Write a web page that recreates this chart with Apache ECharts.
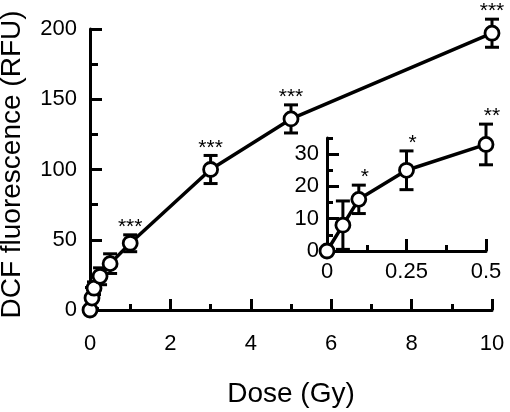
<!DOCTYPE html>
<html>
<head>
<meta charset="utf-8">
<script src="https://cdn.jsdelivr.net/npm/echarts@6/dist/echarts.min.js"></script>
<style>
html,body{margin:0;padding:0;background:#fff;}
#chart{width:510px;height:412px;}
</style>
</head>
<body>
<div id="chart"></div>
<script>
// ---- data ----
const mainDose = [0, 0.05, 0.1, 0.25, 0.5, 1, 3, 5, 10];
const mainDcf  = [0, 8.5, 15.5, 24, 33, 47.5, 100, 136, 197];
const mainErr  = [0, 7.5, 4.5, 6, 7, 6, 10, 10, 10];
const mainSig  = ['', '', '', '', '', '***', '***', '***', '***'];

const insetDose = [0, 0.05, 0.1, 0.25, 0.5];
const insetDcf  = [0, 8, 16, 25, 33];
const insetErr  = [0, 7.5, 4.4, 6, 6.3];
const insetSig  = ['', '', '*', '*', '**'];

const mainXTicks = [0, 2, 4, 6, 8, 10];
const mainYTicks = [0, 50, 100, 150, 200];
const insetXTicks = [0, 0.25, 0.5];
const insetYTicks = [0, 10, 20, 30];

// ---- style ----
const FONT = '"Liberation Sans", Arial, Helvetica, sans-serif';
const BLACK = '#000';

const chart = echarts.init(document.getElementById('chart'), null, {renderer: 'canvas'});

function zip(a, b) { return a.map((v, i) => [v, b[i]]); }

function errRender(sigArr, dx) {
  return function (params, api) {
    const i = params.dataIndex;
    const x = api.value(0), y = api.value(1), e = api.value(2);
    const children = [];
    const top = api.coord([x, y + e]);
    if (e > 0) {
      const bot = api.coord([x, y - e]);
      const cw = 7;
      const st = {stroke: BLACK, lineWidth: 3};
      children.push({type: 'line', shape: {x1: top[0], y1: top[1], x2: bot[0], y2: bot[1]}, style: st});
      children.push({type: 'line', shape: {x1: top[0] - cw, y1: top[1], x2: top[0] + cw, y2: top[1]}, style: st});
      children.push({type: 'line', shape: {x1: bot[0] - cw, y1: bot[1], x2: bot[0] + cw, y2: bot[1]}, style: st});
    }
    if (sigArr[i]) {
      children.push({type: 'text', style: {
        x: top[0] + dx, y: top[1] + 3, text: sigArr[i],
        align: 'center', verticalAlign: 'bottom',
        font: '21px ' + FONT, fill: BLACK
      }});
    }
    return {type: 'group', children};
  };
}

const axisLineStyle = {color: BLACK, width: 3};
const tickStyle = {color: BLACK, width: 3};

const option = {
  animation: false,
  backgroundColor: '#fff',
  textStyle: {fontFamily: FONT, color: BLACK},
  grid: [
    {left: 90, right: 18, top: 29, bottom: 102, containLabel: false, outerBoundsMode: 'none'},
    {left: 327, right: 24, top: 138, bottom: 161, containLabel: false, outerBoundsMode: 'none'}
  ],
  xAxis: [
    {
      gridIndex: 0, type: 'value', min: mainXTicks[0], max: mainXTicks[mainXTicks.length - 1], interval: 2,
      axisLine: {onZero: false, lineStyle: axisLineStyle},
      axisTick: {inside: true, length: 11, lineStyle: tickStyle},
      minorTick: {show: true, splitNumber: 2, length: 6, lineStyle: tickStyle},
      splitLine: {show: false}, minorSplitLine: {show: false},
      axisLabel: {margin: 23, fontSize: 22, color: BLACK, fontFamily: FONT},
      name: 'Dose (Gy)', nameLocation: 'middle', nameGap: 70,
      nameTextStyle: {fontSize: 28, color: BLACK, fontFamily: FONT}
    },
    {
      gridIndex: 1, type: 'value', min: insetXTicks[0], max: insetXTicks[insetXTicks.length - 1], interval: 0.25,
      axisLine: {onZero: false, lineStyle: axisLineStyle},
      axisTick: {inside: true, length: 12, lineStyle: tickStyle},
      minorTick: {show: true, splitNumber: 2, length: 6, lineStyle: tickStyle},
      splitLine: {show: false}, minorSplitLine: {show: false},
      axisLabel: {margin: 10, fontSize: 22, color: BLACK, fontFamily: FONT}
    }
  ],
  yAxis: [
    {
      gridIndex: 0, type: 'value', min: mainYTicks[0], max: mainYTicks[mainYTicks.length - 1], interval: 50,
      axisLine: {show: true, onZero: false, lineStyle: axisLineStyle},
      axisTick: {show: true, inside: true, length: 12, lineStyle: tickStyle},
      minorTick: {show: true, splitNumber: 2, length: 8, lineStyle: tickStyle},
      splitLine: {show: false}, minorSplitLine: {show: false},
      axisLabel: {margin: 13, fontSize: 22, color: BLACK, fontFamily: FONT},
      name: 'DCF fluorescence (RFU)', nameLocation: 'middle', nameGap: 64,
      nameTextStyle: {fontSize: 28, color: BLACK, fontFamily: FONT, padding: [0, 0, 0, 10]}
    },
    {
      gridIndex: 1, type: 'value', position: 'left', min: 0, max: 35, interval: 5,
      axisLine: {show: true, onZero: false, lineStyle: axisLineStyle},
      axisTick: {show: true, inside: true, length: 6, lineStyle: tickStyle},
      splitLine: {show: false},
      axisLabel: {margin: 8, fontSize: 22, color: BLACK, fontFamily: FONT,
        formatter: v => (insetYTicks.indexOf(v) >= 0 ? String(v) : '')}
    },
    {
      gridIndex: 1, type: 'value', position: 'left', offset: 0, min: 0, max: 35, interval: 10,
      axisLine: {show: false},
      axisTick: {show: true, inside: true, length: 12, lineStyle: tickStyle, customValues: insetYTicks},
      splitLine: {show: false},
      axisLabel: {show: false}
    }
  ],
  series: [
    {
      type: 'custom', xAxisIndex: 0, yAxisIndex: 0, z: 2, clip: false,
      data: mainDose.map((d, i) => [d, mainDcf[i], mainErr[i]]),
      renderItem: errRender(mainSig, 0)
    },
    {
      type: 'line', xAxisIndex: 0, yAxisIndex: 0, z: 3, clip: false,
      data: zip(mainDose, mainDcf),
      symbol: 'circle', symbolSize: 14, showAllSymbol: true,
      itemStyle: {color: '#fff', borderColor: BLACK, borderWidth: 2.8},
      lineStyle: {color: BLACK, width: 3.5}
    },
    {
      type: 'custom', xAxisIndex: 1, yAxisIndex: 1, z: 2, clip: false,
      data: insetDose.map((d, i) => [d, insetDcf[i], insetErr[i]]),
      renderItem: errRender(insetSig, 6)
    },
    {
      type: 'line', xAxisIndex: 1, yAxisIndex: 1, z: 3, clip: false,
      data: zip(insetDose, insetDcf),
      symbol: 'circle', symbolSize: 14, showAllSymbol: true,
      itemStyle: {color: '#fff', borderColor: BLACK, borderWidth: 2.8},
      lineStyle: {color: BLACK, width: 3.5}
    }
  ]
};
chart.setOption(option);
</script>
</body>
</html>
